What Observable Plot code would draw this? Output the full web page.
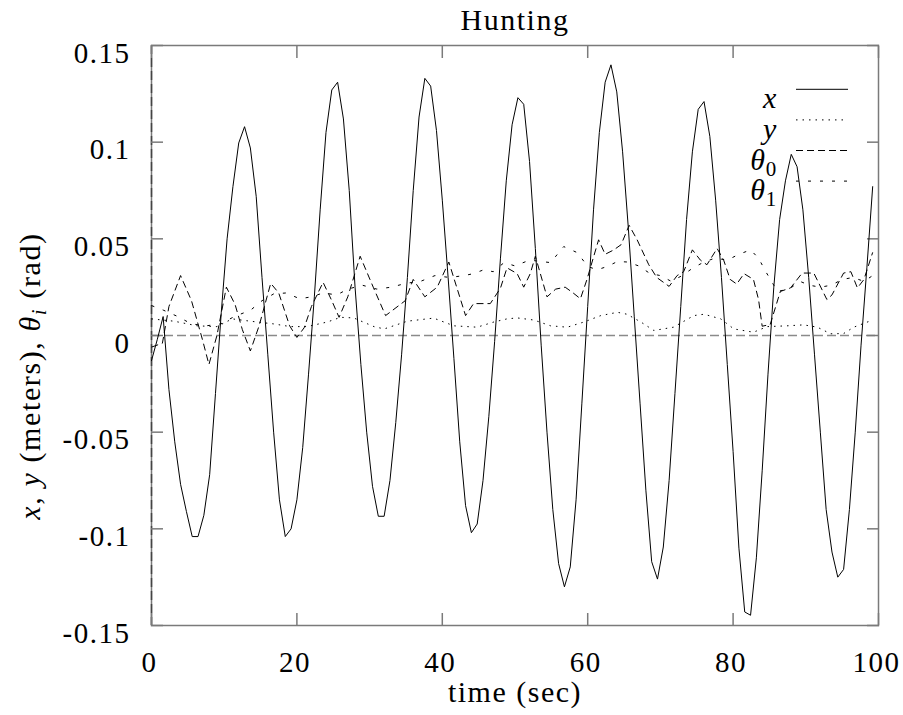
<!DOCTYPE html>
<html><head><meta charset="utf-8">
<script src="https://cdn.jsdelivr.net/npm/d3@7"></script>
<script src="https://cdn.jsdelivr.net/npm/@observablehq/plot@0.6"></script>
<style>
html,body{margin:0;padding:0;background:#fff;}
#chart{width:903px;height:715px;}
</style></head><body><div id="chart"></div>
<script>
// ---- data ----
const titleText = "Hunting";
const xLabelText = "time (sec)";
const xTicks = [0, 20, 40, 60, 80, 100];
const xTickLabels = ["0", "20", "40", "60", "80", "100"];
const yTicks = [-0.15, -0.1, -0.05, 0, 0.05, 0.1, 0.15];
const yTickLabels = ["-0.15", "-0.1", "-0.05", "0", "0.05", "0.1", "0.15"];

// x (solid) sampled every 0.8 s
const xTime = [
  0,0.8,1.6,2.4,3.2,4,4.8,5.6,6.4,7.2,
  8,8.8,9.6,10.4,11.2,12,12.8,13.6,14.4,15.2,
  16,16.8,17.6,18.4,19.2,20,20.8,21.6,22.4,23.2,
  24,24.8,25.6,26.4,27.2,28,28.8,29.6,30.4,31.2,
  32,32.8,33.6,34.4,35.2,36,36.8,37.6,38.4,39.2,
  40,40.8,41.6,42.4,43.2,44,44.8,45.6,46.4,47.2,
  48,48.8,49.6,50.4,51.2,52,52.8,53.6,54.4,55.2,
  56,56.8,57.6,58.4,59.2,60,60.8,61.6,62.4,63.2,
  64,64.8,65.6,66.4,67.2,68,68.8,69.6,70.4,71.2,
  72,72.8,73.6,74.4,75.2,76,76.8,77.6,78.4,79.2,
  80,80.8,81.6,82.4,83.2,84,84.8,85.6,86.4,87.2,
  88,88.8,89.6,90.4,91.2,92,92.8,93.6,94.4,95.2,
  96,96.8,97.6,98.4,99.2
];
const xValues = [
  -0.013,-0.002,0.0098,-0.028,-0.055,-0.077,-0.091,-0.104,-0.104,-0.093,
  -0.072,-0.03,0.012,0.05,0.077,0.0996,0.108,0.097,0.072,0.03,
  -0.01,-0.05,-0.085,-0.104,-0.1,-0.085,-0.058,-0.02,0.02,0.065,
  0.105,0.127,0.131,0.112,0.075,0.025,-0.015,-0.05,-0.078,-0.0935,
  -0.0935,-0.075,-0.045,-0.01,0.03,0.075,0.113,0.133,0.129,0.106,
  0.07,0.03,-0.012,-0.055,-0.088,-0.102,-0.0975,-0.075,-0.042,-0.003,
  0.04,0.08,0.109,0.123,0.1196,0.09,0.045,-0.005,-0.05,-0.09,
  -0.118,-0.13,-0.1197,-0.085,-0.035,0.015,0.065,0.105,0.131,0.14,
  0.126,0.095,0.055,0.01,-0.035,-0.08,-0.117,-0.126,-0.1094,-0.075,
  -0.03,0.015,0.06,0.095,0.117,0.121,0.103,0.07,0.03,-0.015,
  -0.06,-0.11,-0.143,-0.1447,-0.115,-0.07,-0.02,0.025,0.06,0.08,
  0.0937,0.0873,0.065,0.03,-0.01,-0.05,-0.09,-0.112,-0.125,-0.121,
  -0.09,-0.05,-0.005,0.035,0.077
];

// y (dotted)
const yTime = [0,3.1,6.3,9.0,11.1,13.6,16.8,19.1,21.4,24.2,26.0,27.8,30.6,32.0,35.2,38.8,41.6,44.8,47.1,48.9,50.3,52.6,54.9,57.2,59.5,61.8,64.1,65.4,67.3,69.1,71.8,74.6,76.0,78.3,80.1,82.8,84.7,87.4,89.7,91.6,93.4,95.2,96.6,99.2];
const yValues = [0.0086,0.0074,0.005,0.0046,0.0086,0.0074,0.006,0.0046,0.0046,0.007,0.0094,0.0091,0.0046,0.0034,0.0074,0.009,0.005,0.0043,0.007,0.0086,0.0091,0.008,0.005,0.0043,0.007,0.0103,0.012,0.011,0.007,0.0026,0.0043,0.0103,0.011,0.0086,0.0034,0.0017,0.0046,0.005,0.0055,0.0043,0.0009,0.001,0.0043,0.008];

// theta0 (dashed)
const th0Time = [0,1.5,2.4,4.0,5.5,7.0,7.9,9.0,10.3,11.5,12.5,13.6,14.8,16.4,17.5,19.0,20.0,21.0,22.0,23.6,24.8,25.8,27.0,28.7,30.5,32.2,33.5,34.9,36.0,37.6,39.3,40.9,43.2,44.3,46.6,48.0,48.9,50.3,51.2,52.1,52.8,54.4,55.6,56.9,58.0,59.0,59.9,61.5,62.4,63.6,64.6,65.7,66.8,68.4,69.5,71.2,72.3,73.2,74.4,75.5,76.4,77.8,78.7,79.6,80.5,81.5,82.8,83.5,84.0,85.1,86.5,87.9,89.5,91.1,92.9,93.6,95.2,96.2,97.1,98.0,99.2];
const th0Values = [-0.006,-0.004,0.015,0.031,0.018,-0.002,-0.015,0.0,0.025,0.016,0.003,-0.008,0.005,0.027,0.022,0.005,-0.001,0.004,0.015,0.0275,0.018,0.0094,0.02,0.041,0.025,0.0103,0.014,0.018,0.029,0.02,0.025,0.038,0.0103,0.0165,0.0165,0.0245,0.035,0.032,0.025,0.032,0.041,0.02,0.024,0.025,0.022,0.019,0.029,0.0495,0.042,0.0443,0.047,0.057,0.0495,0.0366,0.03,0.0254,0.031,0.033,0.0443,0.039,0.0366,0.045,0.039,0.029,0.0266,0.032,0.029,0.0186,0.0048,0.0057,0.0228,0.0246,0.0323,0.0323,0.0186,0.021,0.0323,0.033,0.0246,0.029,0.043];

// theta1 (sparse dots)
const th1Time = [0,1.7,3.5,5.5,7.5,9.5,11.5,13.6,15.2,16.8,18.5,20.4,22,23.6,25.5,27,29,31,33,35,37,39,41,43,44.3,45.7,47,48.5,50,52,54.9,56.7,58.6,60,61.3,62.7,64.1,65.5,67,68.6,70,71.5,73,74.5,76,77.5,79.2,80.8,82.4,83.5,84.5,86.1,87.7,89.2,90.5,92,93.5,95,96.5,98,99.2];
const th1Values = [0.0155,0.013,0.01,0.006,0.005,0.006,0.01,0.013,0.018,0.0215,0.022,0.019,0.02,0.022,0.021,0.024,0.026,0.024,0.025,0.027,0.028,0.031,0.03,0.031,0.032,0.034,0.033,0.0377,0.036,0.039,0.0377,0.046,0.0428,0.0357,0.034,0.0357,0.0383,0.038,0.036,0.032,0.031,0.028,0.031,0.035,0.038,0.04,0.039,0.042,0.0443,0.04,0.033,0.0228,0.024,0.028,0.026,0.025,0.026,0.029,0.03,0.028,0.031];

const yAxisLabelParts = [["x", true], [", ", false], ["y", true], [" (meters), ", false], ["θ", true], ["i", true, "sub"], [" (rad)", false]];
const legendNames = ["x", "y", "θ", "θ"];
const legendSubs = [null, null, "0", "1"];
const legendDash = [null, "1.5,5", "7,4", "3,9"];

// ---- build ----
const FONT = "'Liberation Serif','Times New Roman',serif";
const zip = (ts, vs) => ts.map((t, i) => ({t, v: vs[i]}));
const xData = zip(xTime, xValues);
const yData = zip(yTime, yValues);
const th0Data = zip(th0Time, th0Values);
const th1Data = zip(th1Time, th1Values);
const GREY = "#7a7a7a";
const tickOpts = {tickSize: 12, tickFormat: () => "", label: null, stroke: GREY, strokeWidth: 1.5};

const chart = Plot.plot({
  width: 903, height: 715,
  marginLeft: 151, marginRight: 25, marginTop: 45, marginBottom: 90,
  x: {domain: [0, 100]},
  y: {domain: [-0.15, 0.15]},
  style: {fontFamily: FONT, fontSize: "29px", background: "white", color: "black", letterSpacing: "0.8px"},
  marks: [
    Plot.ruleY([0], {stroke: "#8a8a8a", strokeWidth: 1.5, strokeDasharray: "9,4"}),
    Plot.frame({stroke: GREY, strokeWidth: 1.5}),
    Plot.ruleX([0], {stroke: "#444", strokeWidth: 1.5, strokeDasharray: "9,4"}),
    Plot.axisY(yTicks, {anchor: "left", dx: 12, ...tickOpts}),
    Plot.axisY(yTicks, {anchor: "right", dx: -12, ...tickOpts}),
    Plot.axisX(xTicks, {anchor: "bottom", dy: -12, ...tickOpts}),
    Plot.axisX(xTicks, {anchor: "top", dy: 12, ...tickOpts}),
    Plot.axisY(yTicks, {anchor: "left", tickSize: 0, tickPadding: 21, dy: 8, label: null, fontSize: 29,
      tickFormat: d => yTickLabels[yTicks.indexOf(d)]}),
    Plot.axisX(xTicks, {anchor: "bottom", tickSize: 0, tickPadding: 26, dx: -2, label: null, fontSize: 29,
      tickFormat: d => xTickLabels[xTicks.indexOf(d)]}),
    Plot.line(th1Data, {x: "t", y: "v", stroke: "black", strokeWidth: 1, strokeDasharray: "3,9", strokeLinecap: "butt"}),
    Plot.line(th0Data, {x: "t", y: "v", stroke: "black", strokeWidth: 1, strokeDasharray: "7,4", strokeLinecap: "butt"}),
    Plot.line(yData, {x: "t", y: "v", stroke: "black", strokeWidth: 1, strokeDasharray: "1.5,5", strokeLinecap: "butt"}),
    Plot.line(xData, {x: "t", y: "v", stroke: "black", strokeWidth: 1}),
    Plot.text([titleText], {text: d => d, frameAnchor: "top", lineAnchor: "bottom", dy: -16, fontSize: 30}),
    Plot.text([xLabelText], {text: d => d, frameAnchor: "bottom", lineAnchor: "bottom", dy: 76, fontSize: 30})
  ]
});
document.getElementById("chart").appendChild(chart);
d3.select(chart).selectAll("text").style("letter-spacing", "1.5px");

// y-axis label with math italics
const svg = d3.select(chart);
const yl = svg.append("text")
  .attr("transform", "translate(40,376) rotate(-90)")
  .attr("text-anchor", "middle")
  .attr("fill", "black")
  .style("font-family", FONT).style("font-size", "30px").style("letter-spacing", "1.6px");
yAxisLabelParts.forEach(([s, it, sub], k) => {
  const ts = yl.append("tspan").text(s);
  if (it) ts.attr("font-style", "italic");
  if (sub) ts.attr("font-size", "21px").attr("dy", 6);
  else if (k > 0 && yAxisLabelParts[k - 1][2]) ts.attr("dy", -6);
});

// legend (top right, gnuplot style)
const lg = svg.append("g").style("font-family", FONT);
legendNames.forEach((name, i) => {
  const L = 89.3 + 30.6 * i;
  const ln = lg.append("line").attr("x1", 796).attr("x2", 848).attr("y1", L).attr("y2", L)
    .attr("stroke", "black").attr("stroke-width", 1);
  if (legendDash[i]) ln.attr("stroke-dasharray", legendDash[i]);
  const t = lg.append("text").attr("x", 777).attr("y", L + 19).attr("text-anchor", "end")
    .style("font-size", "30px").attr("fill", "black");
  t.append("tspan").attr("font-style", "italic").text(name);
  if (legendSubs[i]) t.append("tspan").attr("font-size", "21px").attr("dy", 6).text(legendSubs[i]);
});
</script>
</body></html>
